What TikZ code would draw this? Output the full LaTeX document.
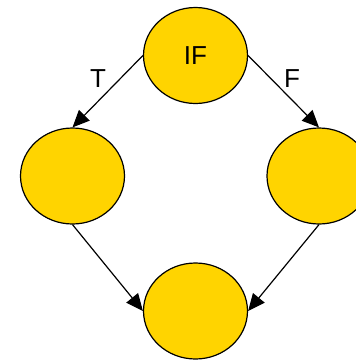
\documentclass[tikz,border=0pt]{standalone}
\usepackage{fontspec}
\setmainfont{Liberation Sans}
\usetikzlibrary{shapes.geometric, arrows.meta}
\definecolor{ifgold}{RGB}{255,212,0}

\begin{document}
\begin{tikzpicture}[x=1pt, y=-1pt, >={Triangle[length=17pt, width=15pt]},
    blob/.style={draw, ellipse, fill=ifgold, line width=1.2pt, minimum width=104pt, minimum height=96pt, inner sep=0pt},
    flow/.style={line width=1.2pt, ->}]
      \useasboundingbox (0,0) rectangle (356,360);
      \clip (0,0) rectangle (356,360);
      \node[blob, font=\fontsize{26}{26}\selectfont] (cond) at (195.5,55.5) {IF};
      \node[blob] (yes) at (72.5,176) {};
      \node[blob] (no) at (319,176) {};
      \node[blob] (join) at (195.5,311) {};
      \node[font=\fontsize{26}{26}\selectfont] (tlab) at (98,78.5) {T};
      \node[font=\fontsize{26}{26}\selectfont] (flab) at (292,78.5) {F};
      \draw[flow] (cond.west) -- (yes.north);
      \draw[flow] (cond.east) -- (no.north);
      \draw[flow] (yes.south) -- (join.west);
      \draw[flow] (no.south) -- (join.east);
    \end{tikzpicture}
\end{document}
